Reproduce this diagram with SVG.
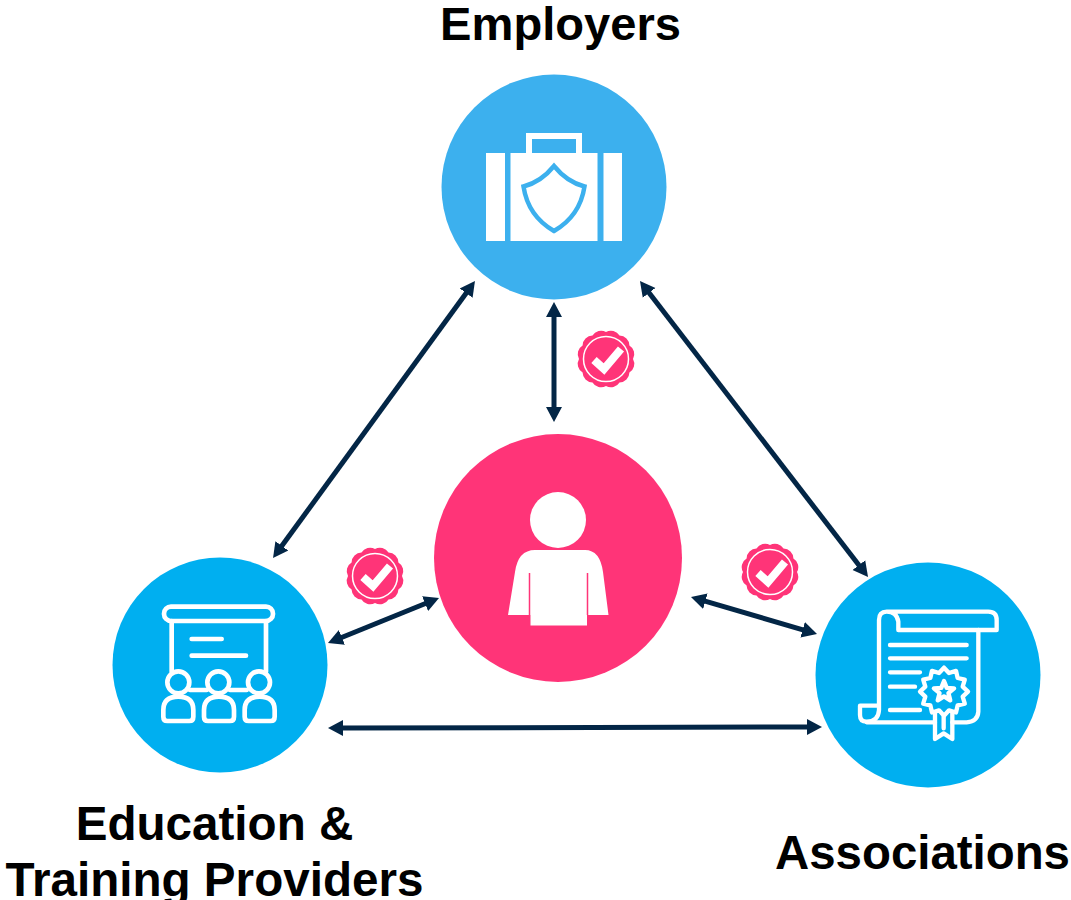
<svg xmlns="http://www.w3.org/2000/svg" width="1071" height="900" viewBox="0 0 1071 900">
<style>
.lbl{font-family:"Liberation Sans",Arial,sans-serif;font-weight:700;font-size:47.600px;fill:#000;text-anchor:middle}
.conn{stroke:#032646;stroke-width:5;fill:none;marker-start:url(#head);marker-end:url(#head)}
.ico{fill:none;stroke:#fff;stroke-linecap:round;stroke-linejoin:round}
</style>
<defs>
<marker id="head" markerUnits="userSpaceOnUse" markerWidth="18" markerHeight="18" refX="3" refY="9" orient="auto-start-reverse" viewBox="0 0 18 18"><path d="M0,1 L15,9 L0,17 Z" fill="#032646"/></marker>
<g id="badge">
<path d="M27,0 A10,10 0 0 1 23.400,13.500 A10,10 0 0 1 13.500,23.400 A10,10 0 0 1 0,27 A10,10 0 0 1 -13.500,23.400 A10,10 0 0 1 -23.400,13.500 A10,10 0 0 1 -27,0 A10,10 0 0 1 -23.400,-13.500 A10,10 0 0 1 -13.500,-23.400 A10,10 0 0 1 0,-27 A10,10 0 0 1 13.500,-23.400 A10,10 0 0 1 23.400,-13.500 A10,10 0 0 1 27,0 Z" fill="#ff3478"/>
<circle r="22.500" fill="none" stroke="#fff" stroke-width="1.500"/>
<path d="M-12,1 L-2,10 L15,-10" fill="none" stroke="#fff" stroke-width="8"/>
</g>
<path id="pupil" d="M82,393 Q70,393 70,380 V360 Q70,320 115,320 Q160,320 160,360 V380 Q160,393 148,393 Z"/>
</defs>

<g id="connectors">
<line class="conn" x1="554" y1="314" x2="554" y2="410"/>
<line class="conn" x1="467.900" y1="290.700" x2="280.100" y2="548.300"/>
<line class="conn" x1="647.300" y1="290.500" x2="860.700" y2="567.500"/>
<line class="conn" x1="339.100" y1="638.500" x2="427.900" y2="602.500"/>
<line class="conn" x1="702.500" y1="600.400" x2="805.500" y2="630.600"/>
<line class="conn" x1="340" y1="728" x2="810" y2="727"/>
</g>

<g id="employers">
<circle cx="554" cy="187" r="112.500" fill="#3cb0ee"/>
<path d="M486,153 H505 V241 H486 Z M510.500,153 H597.500 V241 H510.500 Z M603.500,153 H622 V241 H603.500 Z" fill="#fff"/>
<path d="M526,153 V133 H582 V153 H576 V139 H532 V153 Z" fill="#fff"/>
<path d="M554,166 Q541,182 523.500,186.500 Q528,216 554,231 Q580,216 584.500,186.500 Q567,182 554,166 Z" fill="none" stroke="#3cb0ee" stroke-width="4.500"/>
<text class="lbl" x="560.500" y="40" style="font-size:47.100px">Employers</text>
</g>

<g id="education">
<circle cx="220" cy="665" r="107.500" fill="#00aff0"/>
<g transform="translate(140,590) scale(.33333)">
<g class="ico" stroke-width="14">
<rect x="72" y="50" width="327" height="43" rx="21"/>
<path d="M95,93 V245 M378,93 V245 M155,147 H245 M155,197 H318 M150,300 H200 M270,300 H320"/>
<circle cx="115" cy="277" r="33"/>
<circle cx="235" cy="277" r="33"/>
<circle cx="357" cy="277" r="33"/>
<use href="#pupil"/>
<use href="#pupil" x="122"/>
<use href="#pupil" x="244"/>
</g>
</g>
<text class="lbl" x="214.500" y="840">Education &amp;</text>
<text class="lbl" x="214.500" y="896">Training Providers</text>
</g>

<g id="associations">
<circle cx="928" cy="675" r="112.500" fill="#00aff0"/>
<g transform="translate(845,595) scale(.33333)">
<g class="ico" stroke-width="13">
<path d="M125,50 H430 Q455,50 455,75 V105 H160 V80 Q155,50 125,50 Q102,50 102,75 V345 Q100,380 65,380 Q45,380 45,360 V332 H100"/>
<path d="M400,105 V350 Q398,380 365,382 H322 M65,382 H270"/>
<path d="M135,150 H365 M135,190 H365 M135,232 H225 M135,275 H210 M135,345 H225"/>
<path d="M270,350 V432 L296,415 L322,432 V350 M296,365 V400"/>
<polygon fill="#00aff0" points="369,290 353,305 359.400,326 338,331 333,352.400 312,346 297,362 282,346 261,352.400 256,331 234.600,326 241,305 225,290 241,275 234.600,254 256,249 261,227.600 282,234 297,218 312,234 333,227.600 338,249 359.400,254 353,275"/>
<polygon points="297,258 305.200,278.700 327.400,280 310.300,294.300 315.800,316 297,304 278.200,316 283.700,294.300 266.600,280 288.800,278.700"/>
</g>
</g>
<text class="lbl" x="922.500" y="869" style="font-size:47.400px">Associations</text>
</g>

<g id="person">
<circle cx="558" cy="558" r="124" fill="#ff3478"/>
<circle cx="558" cy="520" r="28" fill="#fff"/>
<path d="M508,615 L515,572 Q518,550 535,550 H585 Q600,550 603,572 L608.500,615 H587 V625.500 H530.500 V615 Z" fill="#fff"/>
<path d="M529.500,573 V615 M587.500,573 V615" stroke="#ff3478" stroke-width="1.500" fill="none"/>
</g>

<g id="badges">
<use href="#badge" x="606" y="359"/>
<use href="#badge" x="375" y="576"/>
<use href="#badge" x="770" y="572"/>
</g>
</svg>
